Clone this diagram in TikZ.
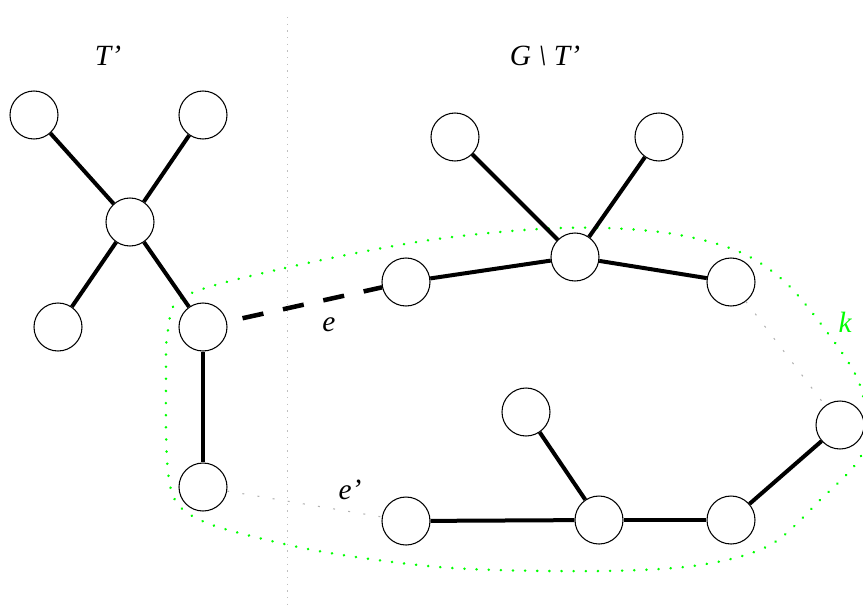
\documentclass[tikz,border=0pt]{standalone}
\usepackage{fontspec}
\setmainfont{Liberation Serif}
\begin{document}
\begin{tikzpicture}[x=0.75pt,y=-0.75pt,
  vtx/.style={circle,draw,line width=0.8pt,minimum size=36pt,inner sep=0pt,fill=white},
  tedge/.style={line width=3pt},
  nedge/.style={line width=3.4pt,dash pattern=on 16pt off 15pt,dash phase=19pt},
  faint/.style={draw=gray!60,line width=0.8pt,dash pattern=on 1.5pt off 10pt},
  lbl/.style={font=\fontsize{22}{26}\selectfont\itshape,inner sep=0pt}]
\useasboundingbox (0,0) rectangle (863,608);
% vertical separator
\draw[gray!50,line width=0.6pt,dash pattern=on 1pt off 4pt] (287,17) -- (287,608);
% green region k
\draw[green,line width=2pt,line cap=round,dash pattern=on 0.1pt off 9pt]
  plot[smooth cycle,tension=0.55] coordinates {(185,296) (285,268) (430,240) (560,228) (660,232) (735,250) (785,282) (830,336) (858,380) (866,420) (860,458) (820,500) (770,545) (700,565) (600,571) (452,568) (330,553) (247,535) (200,520) (175,500) (167,460) (166,380) (168,330)};
% nodes left tree
\node[vtx] (a1) at (34,115) {};
\node[vtx] (a2) at (203,115) {};
\node[vtx] (c) at (130,222) {};
\node[vtx] (a3) at (58,327) {};
\node[vtx] (b) at (203,327) {};
\node[vtx] (d) at (203,487) {};
% right
\node[vtx] (r1) at (455,137) {};
\node[vtx] (r2) at (659,137) {};
\node[vtx] (rc) at (575,257) {};
\node[vtx] (rl) at (406,282) {};
\node[vtx] (rr) at (731,282) {};
\node[vtx] (s) at (840,425) {};
\node[vtx] (lt) at (526,412) {};
\node[vtx] (lc) at (599,520) {};
\node[vtx] (ll) at (406,521) {};
\node[vtx] (lr) at (731,520) {};
% edges
\draw[tedge] (a1) -- (c);
\draw[tedge] (a2) -- (c);
\draw[tedge] (a3) -- (c);
\draw[tedge] (b) -- (c);
\draw[tedge] (b) -- (d);
\draw[tedge] (r1) -- (rc);
\draw[tedge] (r2) -- (rc);
\draw[tedge] (rl) -- (rc);
\draw[tedge] (rr) -- (rc);
\draw[tedge] (lt) -- (lc);
\draw[tedge] (ll) -- (lc);
\draw[tedge] (lr) -- (lc);
\draw[tedge] (lr) -- (s);
\draw[nedge] (b) -- (rl);
\draw[faint] (d) -- (ll);
\draw[faint] (rr) -- (s);
% labels
\node[lbl] (tl) at (108,56) {T’};
\node[lbl] (gl) at (545,56) {G \textbackslash\ T’};
\node[lbl] (el) at (329,325) {e};
\node[lbl] (epl) at (350,490) {e’};
\node[lbl,text=green] (kl) at (845,322) {k};
\end{tikzpicture}
\end{document}
